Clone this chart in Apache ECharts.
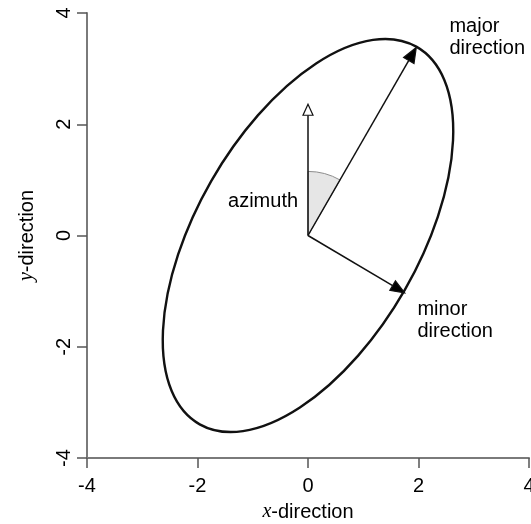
<!DOCTYPE html>
<html>
<head>
<meta charset="utf-8">
<script src="https://cdn.jsdelivr.net/npm/echarts@6/dist/echarts.min.js"></script>
<style>
  html, body { margin: 0; padding: 0; background: #fff; }
  #chart { width: 531px; height: 524px; }
</style>
</head>
<body>
<div id="chart"></div>
<script>
// axis ticks
const xTicks = [-4, -2, 0, 2, 4];
const yTicks = [-4, -2, 0, 2, 4];

// ellipse
const ellipseCenter = [0, 0];
const semiAxes = [3.92, 2.0];   // major, minor
const azimuthDeg = [30];        // clockwise from north
const arcRadius = [1.16];

// arrows: start at the centre, end at these tips
const arrowNames = ['major', 'minor', 'north'];
const arrowTips = [[1.96, 3.38], [1.75, -1.03], [0, 2.36]];

// annotations
const labelTexts = ['major\ndirection', 'minor\ndirection', 'azimuth'];
const labelAnchors = [[2.56, 3.56], [1.98, -1.53], [-0.18, 0.62]];

const FONT = 'Liberation Sans, Arial, sans-serif';
const SERIF = 'Liberation Serif, Times New Roman, serif';
const INK = '#000';

const arrowStyles = {
  major: { head: 15, half: 6, fill: INK },
  minor: { head: 14, half: 5.5, fill: INK },
  north: { head: 11, half: 5, fill: '#fff' }
};
const labelAlign = { 'azimuth': 'right' };

const chart = echarts.init(document.getElementById('chart'));

function axisBase(ticks) {
  return {
    type: 'value',
    min: ticks[0],
    max: ticks[ticks.length - 1],
    interval: ticks[1] - ticks[0],
    splitLine: { show: false },
    axisLine: { show: true, onZero: false, lineStyle: { color: '#7a7a7a', width: 2 } },
    axisTick: { show: true, inside: false, length: 10, lineStyle: { color: '#555', width: 1.5 } },
    nameLocation: 'middle',
    nameTextStyle: {
      fontSize: 20, color: INK, fontFamily: FONT,
      rich: { i: { fontSize: 20, color: INK, fontFamily: SERIF, fontStyle: 'italic' } }
    }
  };
}

const xAxis = Object.assign(axisBase(xTicks), {
  name: '{i|x}-direction',
  nameGap: 44,
  axisLabel: { fontSize: 20, color: INK, fontFamily: FONT, margin: 18 }
});
const yAxis = Object.assign(axisBase(yTicks), {
  name: '{i|y}-direction',
  nameGap: 50,
  axisLabel: { fontSize: 20, color: INK, fontFamily: FONT, margin: 13, rotate: 90 }
});

chart.setOption({
  animation: false,
  backgroundColor: '#fff',
  grid: { left: 87, right: 2, top: 13, bottom: 66, outerBoundsMode: 'none' },
  xAxis: xAxis,
  yAxis: yAxis,
  series: [
    {
      // azimuth wedge
      type: 'custom',
      silent: true,
      data: [[ellipseCenter[0], ellipseCenter[1], arcRadius[0], azimuthDeg[0]]],
      renderItem: (params, api) => {
        const c = api.coord([api.value(0), api.value(1)]);
        const r = api.size([api.value(2), 0])[0];
        const az = api.value(3) * Math.PI / 180;
        return {
          type: 'sector',
          shape: { cx: c[0], cy: c[1], r0: 0, r: r, startAngle: -Math.PI / 2, endAngle: -Math.PI / 2 + az, clockwise: true },
          style: { fill: '#e6e6e6', stroke: '#8c8c8c', lineWidth: 1 }
        };
      }
    },
    {
      // ellipse outline
      type: 'custom',
      silent: true,
      data: [[ellipseCenter[0], ellipseCenter[1], semiAxes[0], semiAxes[1], azimuthDeg[0]]],
      renderItem: (params, api) => {
        const az = api.value(4) * Math.PI / 180;
        const a = api.value(2), b = api.value(3);
        const cx = api.value(0), cy = api.value(1);
        const p1 = api.coord([cx + a * Math.sin(az), cy + a * Math.cos(az)]);
        const p2 = api.coord([cx - a * Math.sin(az), cy - a * Math.cos(az)]);
        const sx = api.size([1, 0])[0], sy = api.size([0, 1])[1];
        const s = (sx + sy) / 2;
        const rx = a * s, ry = b * s;
        const rot = -(90 - api.value(4));
        const d = 'M' + p1[0] + ' ' + p1[1] +
          ' A' + rx + ' ' + ry + ' ' + rot + ' 1 0 ' + p2[0] + ' ' + p2[1] +
          ' A' + rx + ' ' + ry + ' ' + rot + ' 1 0 ' + p1[0] + ' ' + p1[1] + ' Z';
        return {
          type: 'path',
          shape: { pathData: d },
          style: { fill: 'none', stroke: '#111', lineWidth: 2.4 }
        };
      }
    },
    {
      // arrows
      type: 'custom',
      silent: true,
      data: arrowTips.map((t, i) => [ellipseCenter[0], ellipseCenter[1], t[0], t[1], i]),
      renderItem: (params, api) => {
        const p0 = api.coord([api.value(0), api.value(1)]);
        const p1 = api.coord([api.value(2), api.value(3)]);
        const st = arrowStyles[arrowNames[api.value(4)]];
        const dx = p1[0] - p0[0], dy = p1[1] - p0[1];
        const len = Math.hypot(dx, dy);
        const ux = dx / len, uy = dy / len;
        const nx = -uy, ny = ux;
        const bx = p1[0] - ux * st.head, by = p1[1] - uy * st.head;
        return {
          type: 'group',
          children: [
            { type: 'line', shape: { x1: p0[0], y1: p0[1], x2: bx, y2: by }, style: { stroke: '#111', lineWidth: 1.5 } },
            {
              type: 'polygon',
              shape: { points: [p1, [bx + nx * st.half, by + ny * st.half], [bx - nx * st.half, by - ny * st.half]] },
              style: { fill: st.fill, stroke: '#111', lineWidth: 1.2, lineJoin: 'miter' }
            }
          ]
        };
      }
    },
    {
      // text annotations
      type: 'scatter',
      silent: true,
      symbolSize: 0,
      itemStyle: { opacity: 1 },
      data: labelAnchors.map((p, i) => ({
        value: p,
        label: { formatter: labelTexts[i], align: labelAlign[labelTexts[i]] || 'left' }
      })),
      label: {
        show: true,
        position: 'inside',
        verticalAlign: 'middle',
        fontSize: 20,
        lineHeight: 22,
        color: INK,
        textBorderWidth: 0,
        fontFamily: FONT
      }
    }
  ]
});
</script>
</body>
</html>
